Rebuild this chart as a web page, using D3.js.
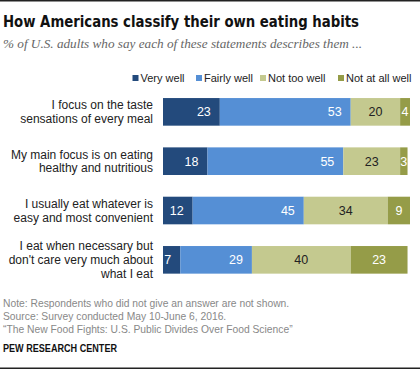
<!DOCTYPE html>
<html>
<head>
<meta charset="utf-8">
<script src="https://cdn.jsdelivr.net/npm/d3@7"></script>
<style>
  html, body { margin: 0; padding: 0; background: #fff; }
  svg { display: block; }
</style>
</head>
<body>
<svg id="chart" width="420" height="371"></svg>
<script>
// data
const categories = [
  "I focus on the taste sensations of every meal",
  "My main focus is on eating healthy and nutritious",
  "I usually eat whatever is easy and most convenient",
  "I eat when necessary but don't care very much about what I eat"
];
const labelLines = [
  ["I focus on the taste", "sensations of every meal"],
  ["My main focus is on eating", "healthy and nutritious"],
  ["I usually eat whatever is", "easy and most convenient"],
  ["I eat when necessary but", "don't care very much about", "what I eat"]
];
const seriesNames = ["Very well", "Fairly well", "Not too well", "Not at all well"];
const veryWell    = [23, 18, 12, 7];
const fairlyWell  = [53, 55, 45, 29];
const notTooWell  = [20, 23, 34, 40];
const notAtAll    = [4, 3, 9, 23];

const colors = ["#234a7c", "#558fd5", "#c4c98f", "#959c48"];
const textColors = ["#fff", "#fff", "#222", "#fff"];

const svg = d3.select("#chart");
const sans = "'Liberation Sans', Arial, sans-serif";

function fit(sel, w) {
  const n = sel.node().getComputedTextLength();
  if (Math.abs(n - w) / w > 0.03) sel.attr("textLength", w).attr("lengthAdjust", "spacingAndGlyphs");
}

// frame lines
svg.append("rect").attr("x", 0).attr("y", 0).attr("width", 420).attr("height", 1.5).attr("fill", "#222");
svg.append("rect").attr("x", 0).attr("y", 367.5).attr("width", 420).attr("height", 1.5).attr("fill", "#222");

// title
svg.append("text")
  .attr("x", 3).attr("y", 27)
  .attr("font-family", "'Liberation Sans Narrow', 'DejaVu Sans Condensed', Arial, sans-serif")
  .attr("font-weight", "bold").attr("font-size", 16).attr("fill", "#111")
  .text("How Americans classify their own eating habits")
  .call(fit, 356);

svg.append("text")
  .attr("x", 3).attr("y", 48)
  .attr("font-family", "Georgia, 'Liberation Serif', 'DejaVu Serif', serif")
  .attr("font-style", "italic").attr("font-size", 12.5).attr("fill", "#666")
  .text("% of U.S. adults who say each of these statements describes them ...")
  .call(fit, 359);

// scales
const x = d3.scaleLinear().domain([0, 100]).range([163, 410]);
const y = d3.scaleBand().domain(categories).range([87.2, 284.5]).paddingInner(0.44).paddingOuter(0.22);

const rows = categories.map((c, i) => {
  const vals = [veryWell[i], fairlyWell[i], notTooWell[i], notAtAll[i]];
  let acc = 0;
  return vals.map((v, k) => {
    const seg = { cat: c, k, v, x0: acc, x1: acc + v };
    acc += v;
    return seg;
  });
});

// legend
const legendX = [132.5, 196, 260, 338];
const lg = svg.append("g").selectAll("g").data(seriesNames).join("g")
  .attr("transform", (d, i) => `translate(${legendX[i]},0)`);
lg.append("rect").attr("x", 0).attr("y", 75).attr("width", 6).attr("height", 6).attr("fill", (d, i) => colors[i]);
lg.append("text").attr("x", 8).attr("y", 82)
  .attr("font-family", sans).attr("font-size", 11).attr("fill", "#222")
  .text(d => d);

// bars
const g = svg.append("g");
const rowG = g.selectAll("g").data(rows).join("g");
rowG.selectAll("rect").data(d => d).join("rect")
  .attr("x", d => x(d.x0))
  .attr("y", d => y(d.cat))
  .attr("width", d => x(d.x1) - x(d.x0))
  .attr("height", y.bandwidth())
  .attr("fill", d => colors[d.k]);

rowG.selectAll("text").data(d => d).join("text")
  .attr("x", d => d.k < 2 ? x(d.x1) - 9 : (x(d.x0) + x(d.x1)) / 2)
  .attr("y", d => y(d.cat) + y.bandwidth() / 2 + 4.5)
  .attr("text-anchor", d => d.k < 2 ? "end" : "middle")
  .attr("font-family", sans).attr("font-size", 12.5)
  .attr("fill", d => textColors[d.k])
  .text(d => d.v);

// category labels
const lab = svg.append("g").selectAll("text").data(categories).join("text")
  .attr("text-anchor", "end")
  .attr("font-family", sans).attr("font-size", 12).attr("fill", "#222");
lab.each(function(c, i) {
  const lines = labelLines[i];
  const cy = y(c) + y.bandwidth() / 2;
  const lh = 13.8;
  d3.select(this).selectAll("tspan").data(lines).join("tspan")
    .attr("x", 153)
    .attr("y", (d, j) => cy + (j - (lines.length - 1) / 2) * lh + 4.3)
    .text(d => d);
});

// footer
const foot = [
  "Note: Respondents who did not give an answer are not shown.",
  "Source: Survey conducted May 10-June 6, 2016.",
  "\u201cThe New Food Fights: U.S. Public Divides Over Food Science\u201d"
];
const footW = [280, 217, 283];
svg.append("g").selectAll("text").data(foot).join("text")
  .attr("x", 3).attr("y", (d, i) => 306.7 + i * 13)
  .attr("font-family", sans).attr("font-size", 10.3).attr("fill", "#888")
  .text(d => d)
  .each(function(d, i) { d3.select(this).call(fit, footW[i]); });

svg.append("text").attr("x", 3).attr("y", 352)
  .attr("font-family", sans).attr("font-size", 10).attr("font-weight", "bold").attr("fill", "#111")
  .text("PEW RESEARCH CENTER")
  .call(fit, 114);
</script>
</body>
</html>
